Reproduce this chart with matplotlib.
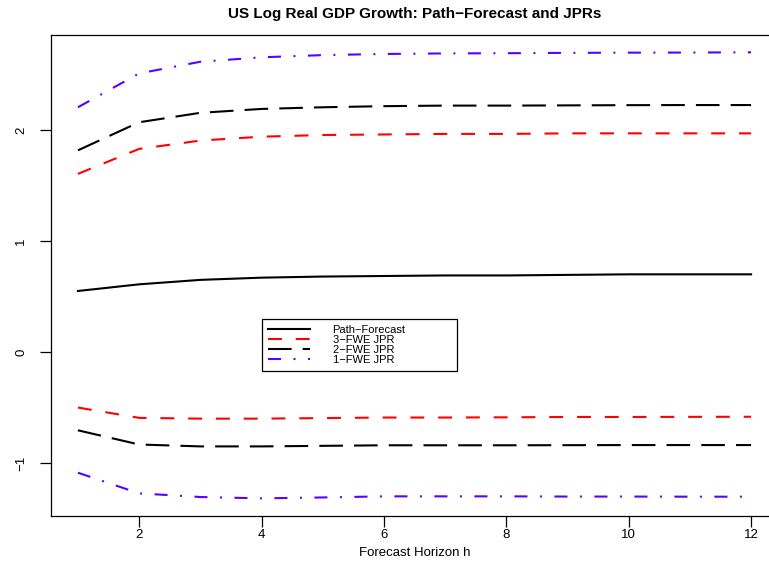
import numpy as np
import matplotlib
matplotlib.use("Agg")
from matplotlib import pyplot as plt

# forecast horizons and the path forecast with its joint prediction regions
h = np.arange(1, 13)
path_fc = [0.55, 0.61, 0.65, 0.67, 0.68, 0.685, 0.69, 0.69, 0.695, 0.70, 0.70, 0.70]
up3 = [1.605, 1.83, 1.905, 1.94, 1.955, 1.96, 1.965, 1.965, 1.97, 1.97, 1.97, 1.97]
lo3 = [-0.50, -0.593, -0.60, -0.60, -0.595, -0.59, -0.59, -0.588, -0.585, -0.585, -0.584, -0.583]
up2 = [1.817, 2.07, 2.155, 2.19, 2.205, 2.215, 2.22, 2.22, 2.222, 2.224, 2.225, 2.225]
lo2 = [-0.705, -0.833, -0.85, -0.85, -0.845, -0.84, -0.84, -0.84, -0.839, -0.838, -0.838, -0.838]
up1 = [2.205, 2.51, 2.615, 2.655, 2.675, 2.685, 2.69, 2.692, 2.695, 2.697, 2.698, 2.70]
lo1 = [-1.087, -1.273, -1.306, -1.318, -1.31, -1.30, -1.30, -1.30, -1.302, -1.302, -1.303, -1.303]

plt.rcParams['font.family'] = ['Liberation Sans', 'DejaVu Sans']
plt.rcParams['lines.scale_dashes'] = False

fig = plt.figure(figsize=(7.69, 5.62), dpi=100)
ax = fig.add_axes([51/769, 1-516/562, 727/769, 481/562])

lw = 1.5
ax.plot(h, path_fc, color='black', lw=lw, label='Path\u2212Forecast')
ax.plot(h, up3, color='red', lw=lw, dashes=(10, 10), label='3\u2212FWE JPR')
ax.plot(h, lo3, color='red', lw=lw, dashes=(10, 10))
ax.plot(h, up2, color='black', lw=lw, dashes=(17, 8), label='2\u2212FWE JPR')
ax.plot(h, lo2, color='black', lw=lw, dashes=(17, 8))
ax.plot(h, up1, color='#5a00ff', lw=lw, dashes=(9.4, 9, 1.4, 9), label='1\u2212FWE JPR')
ax.plot(h, lo1, color='#5a00ff', lw=lw, dashes=(9.4, 9, 1.4, 9))

ax.set_xlim(0.56, 12.44)
ax.set_ylim(-1.477, 2.856)
ax.set_xticks([2, 4, 6, 8, 10, 12])
ax.set_yticks([-1, 0, 1, 2])
ax.spines['right'].set_visible(False)
for s in ['left', 'top', 'bottom']:
    ax.spines[s].set_linewidth(0.9)
ax.tick_params(direction='out', length=8, width=0.9, labelsize=9.5)
ax.tick_params(axis='x', pad=1)
ax.tick_params(axis='y', pad=9)
for lab in ax.get_yticklabels():
    lab.set_rotation(90)
    lab.set_va('center')

ax.set_xlabel('Forecast Horizon h', fontsize=9.5, labelpad=5)
ax.set_title('US Log Real GDP Growth: Path\u2212Forecast and JPRs',
             fontsize=11, fontweight='bold', pad=12)

leg = ax.legend(loc='upper left', bbox_to_anchor=(262/769, 1-319/562, 195/769, 0.0),
                bbox_transform=fig.transFigure, mode='expand', borderaxespad=0,
                fancybox=False, edgecolor='black', framealpha=1, fontsize=8,
                handlelength=3.8, handletextpad=2.0, labelspacing=0.0,
                borderpad=0.55)
leg.get_frame().set_linewidth(0.9)

fig.savefig('out.png', dpi=100)
